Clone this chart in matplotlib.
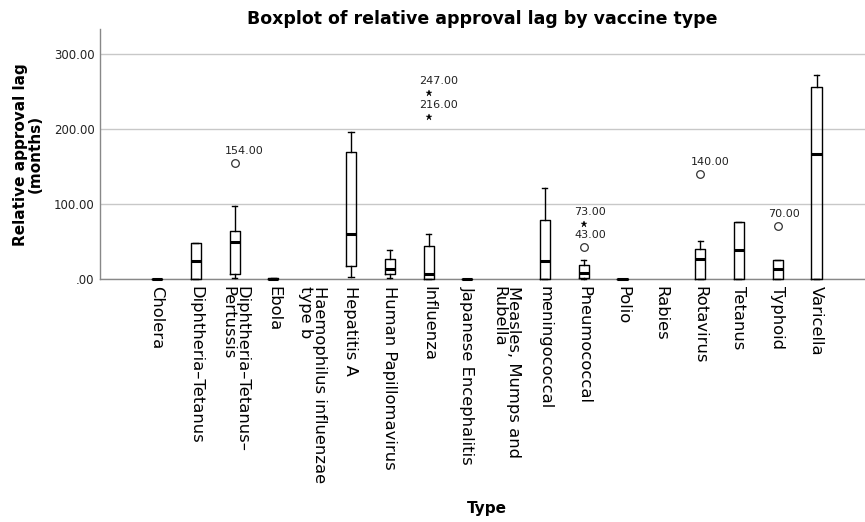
import numpy as np
import matplotlib.pyplot as plt

# Vaccine types (x axis) and box summary values in months
categories = ["Cholera", "Diphtheria–Tetanus", "Diphtheria–Tetanus–\nPertussis", "Ebola",
              "Haemophilus influenzae\ntype b", "Hepatitis A", "Human Papillomavirus",
              "Influenza", "Japanese Encephalitis", "Measles, Mumps and\nRubella",
              "meningococcal", "Pneumococcal", "Polio", "Rabies", "Rotavirus",
              "Tetanus", "Typhoid", "Varicella"]
q1 = [0, 0, 6, 0, None, 17, 7, 0, 0, None, 0, 2, 0, None, 0, 0, 0, 0]
medians = [0, 24, 49, 0, None, 60, 13, 6, 0, None, 24, 7.5, 0, None, 26, 38.5, 13, 166]
q3 = [0, 48, 63.5, 1, None, 169, 27, 44, 0, None, 78, 18, 0, None, 40, 75.5, 25, 256]
whislo = [0, 0, 2, 0, None, 3, 1, 0, 0, None, 0, 0, 0, None, 0, 0, 0, 0]
whishi = [0, 48, 97, 1, None, 195, 38, 60, 0, None, 121, 25, 0, None, 50, 75.5, 25, 272]

# outliers: category index, value, kind (o = outlier, * = extreme)
out_cat = [2, 7, 7, 11, 11, 14, 16]
out_val = [154, 216, 247, 43, 73, 140, 70]
out_kind = ["o", "*", "*", "o", "*", "o", "o"]

yticks = [0, 100, 200, 300]
ytick_labels = [".00", "100.00", "200.00", "300.00"]

fig = plt.figure(figsize=(8.65, 5.22), dpi=100)
ax = fig.add_axes([0.1156, 0.4655, 0.8844, 0.478])

stats = []
positions = []
for i, name in enumerate(categories):
    if medians[i] is None:
        continue
    stats.append(dict(med=medians[i], q1=q1[i], q3=q3[i],
                      whislo=whislo[i], whishi=whishi[i], fliers=[]))
    positions.append(i)

parts = ax.bxp(stats, positions=positions, widths=0.26, capwidths=0.13,
               showfliers=False, patch_artist=False,
               boxprops=dict(color="black", linewidth=1.0),
               whiskerprops=dict(color="black", linewidth=1.0),
               capprops=dict(color="black", linewidth=1.0),
               medianprops=dict(color="black", linewidth=2.2, solid_capstyle="butt"),
               zorder=3)
for key in ["boxes", "medians", "whiskers", "caps"]:
    for art in parts[key]:
        art.set_clip_on(False)
        art.set_zorder(4)

for c, v, k in zip(out_cat, out_val, out_kind):
    if k == "o":
        ax.plot(c, v, marker="o", markersize=5.5, markerfacecolor="white",
                markeredgecolor="#333333", markeredgewidth=0.9, zorder=4)
    else:
        ax.plot(c, v, marker="*", markersize=5, color="black",
                markeredgewidth=0.3, zorder=4)
    ax.annotate(f"{v:.2f}", (c, v), xytext=(-7, 5), textcoords="offset points",
                fontsize=8, color="#222222", ha="left", va="bottom")

ax.set_xlim(-1.47, 18.25)
ax.set_ylim(0, 332)
ax.set_xticks(range(len(categories)))
ax.set_xticklabels(categories, rotation=-90, fontsize=11.8, va="top", ha="center",
                   multialignment="left", linespacing=0.92)
ax.set_yticks(yticks)
ax.set_yticklabels(ytick_labels, fontsize=8.5, color="#222222")
ax.tick_params(axis="both", length=0, pad=5)
ax.tick_params(axis="y", pad=4)

ax.grid(axis="y", color="#c8c8c8", linewidth=1.0, zorder=0)
ax.set_axisbelow(True)
for side in ["top", "right"]:
    ax.spines[side].set_visible(False)
for side in ["left", "bottom"]:
    ax.spines[side].set_color("#888888")
    ax.spines[side].set_linewidth(1.0)

ax.set_ylabel("Relative approval lag\n(months)", fontsize=11, fontweight="bold",
              linespacing=0.95, labelpad=8)
ax.set_title("Boxplot of relative approval lag by vaccine type", fontsize=12.5,
             fontweight="bold", pad=4)
fig.text(0.563, 0.018, "Type", fontsize=11, fontweight="bold", ha="center")

fig.savefig("out.png", dpi=100)
